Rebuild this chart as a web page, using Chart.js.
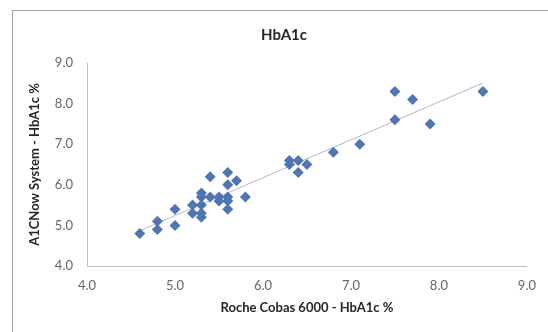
<!DOCTYPE html>
<html>
<head>
<meta charset="utf-8">
<script src="https://cdn.jsdelivr.net/npm/chart.js@4"></script>
<style>
  html, body { margin: 0; padding: 0; background: #fff; }
  #wrap { position: relative; width: 548px; height: 332px; }
</style>
</head>
<body>
<div id="wrap"><canvas id="hba1c" width="548" height="332"></canvas></div>
<script>
// Roche Cobas 6000 (x) vs A1CNow System (y), HbA1c %
const rocheValues = [4.6, 4.8, 4.8, 5.0, 5.0, 5.2, 5.2, 5.3, 5.3, 5.3, 5.3, 5.3, 5.4, 5.4, 5.5, 5.5,
                     5.6, 5.6, 5.6, 5.6, 5.6, 5.7, 5.8, 6.3, 6.3, 6.4, 6.4, 6.5, 6.8, 7.1, 7.5, 7.5, 7.7, 7.9, 8.5];
const a1cNowValues = [4.8, 5.1, 4.9, 5.4, 5.0, 5.5, 5.3, 5.8, 5.7, 5.5, 5.3, 5.2, 6.2, 5.7, 5.7, 5.6,
                      6.3, 6.0, 5.7, 5.6, 5.4, 6.1, 5.7, 6.6, 6.5, 6.6, 6.3, 6.5, 6.8, 7.0, 8.3, 7.6, 8.1, 7.5, 8.3];
const axisTicks = [4.0, 5.0, 6.0, 7.0, 8.0, 9.0];
const chartTitle = 'HbA1c';

const font = "Lato, 'Open Sans', sans-serif";

// linear trendline like excel
function trendline(xs, ys) {
    const n = xs.length;
    let sx = 0, sy = 0, sxy = 0, sxx = 0;
    for (let i = 0; i < n; i++) {
        sx += xs[i]; sy += ys[i];
        sxy += xs[i] * ys[i]; sxx += xs[i] * xs[i];
    }
    const slope = (n * sxy - sx * sy) / (n * sxx - sx * sx);
    const icpt = (sy - slope * sx) / n;
    const lo = Math.min(...xs), hi = Math.max(...xs);
    return [{ x: lo, y: slope * lo + icpt }, { x: hi, y: slope * hi + icpt }];
}

const points = rocheValues.map((x, i) => ({ x: x, y: a1cNowValues[i] }));

// white background, outer chart border and the title (excel centres it on the whole chart object)
const frame = {
    id: 'frame',
    beforeDraw(chart) {
        const ctx = chart.ctx;
        ctx.save();
        ctx.fillStyle = '#fff';
        ctx.fillRect(0, 0, chart.width, chart.height);
        ctx.strokeStyle = '#a6a6a6';
        ctx.lineWidth = 1;
        ctx.strokeRect(12.5, 10.5, 600, 400);
        ctx.fillStyle = '#262626';
        ctx.font = 'bold 15px ' + font;
        ctx.textAlign = 'center';
        ctx.textBaseline = 'middle';
        ctx.fillText(chartTitle, 284, 35);
        ctx.restore();
    }
};

new Chart(document.getElementById('hba1c'), {
    type: 'scatter',
    data: {
        datasets: [{
            label: 'HbA1c',
            data: points,
            pointStyle: 'rectRot',
            pointRadius: 5.5,
            pointHoverRadius: 5.5,
            backgroundColor: '#4F75B3',
            borderColor: '#4F75B3',
            borderWidth: 0,
            order: 1
        }, {
            label: 'Linear',
            type: 'line',
            data: trendline(rocheValues, a1cNowValues),
            borderColor: '#a9b9d6',
            borderWidth: 1,
            pointRadius: 0,
            fill: false,
            order: 2
        }]
    },
    options: {
        responsive: false,
        animation: false,
        layout: { padding: { left: 14, right: 20, top: 63, bottom: 0 } },
        plugins: {
            legend: { display: false },
            tooltip: { enabled: false },
            title: { display: false }
        },
        scales: {
            x: {
                type: 'linear',
                min: 4, max: 9,
                afterBuildTicks: s => { s.ticks = axisTicks.map(v => ({ value: v })); },
                afterFit: s => { s.height = 66; },
                grid: { display: false, drawTicks: false },
                border: { color: '#bfbfbf', dash: [2, 2] },
                ticks: {
                    color: '#666',
                    padding: 12,
                    font: { family: font, size: 13 },
                    callback: v => v.toFixed(1)
                },
                title: {
                    display: true,
                    text: 'Roche Cobas 6000 - HbA1c %',
                    color: '#262626',
                    font: { family: font, size: 13, weight: 'bold' },
                    padding: { top: 4, bottom: 16 }
                }
            },
            y: {
                type: 'linear',
                min: 4, max: 9,
                afterBuildTicks: s => { s.ticks = axisTicks.map(v => ({ value: v })); },
                afterFit: s => { s.width = 73; },
                grid: { display: false, drawTicks: false },
                border: { color: '#bfbfbf' },
                ticks: {
                    color: '#666',
                    padding: 14,
                    font: { family: font, size: 13 },
                    callback: v => v.toFixed(1)
                },
                title: {
                    display: true,
                    text: 'A1CNow System - HbA1c %',
                    color: '#262626',
                    font: { family: font, size: 13, weight: 'bold' },
                    padding: { top: 13, bottom: 4 }
                }
            }
        }
    },
    plugins: [frame]
});
</script>
</body>
</html>
